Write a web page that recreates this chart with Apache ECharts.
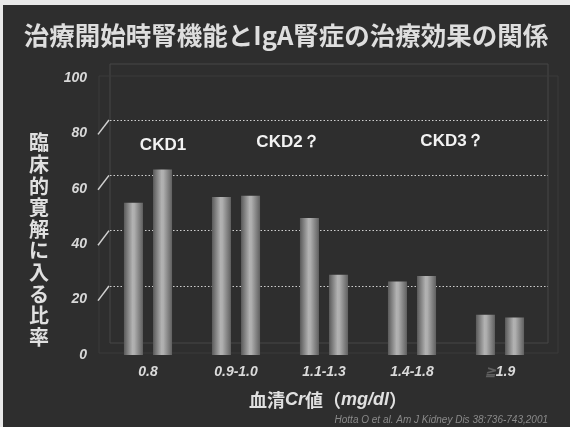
<!DOCTYPE html>
<html>
<head>
<meta charset="utf-8">
<script src="https://cdn.jsdelivr.net/npm/echarts@6/dist/echarts.min.js"></script>
<style>
  html, body { margin: 0; padding: 0; background: #2e2e2e; }
  #chart { width: 570px; height: 427px; }
</style>
</head>
<body>
<div id="chart"></div>
<script>
// Serum creatinine bands at the start of treatment
const categories = ['0.8', '0.9-1.0', '1.1-1.3', '1.4-1.8', '≧1.9'];
// Clinical remission rate (%) for the two bars in each band
const seriesA = [55, 57, 49.5, 26.5, 14.5];
const seriesB = [67, 57.5, 29, 28.5, 13.5];
// Value axis ticks
const yTicks = [0, 20, 40, 60, 80, 100];
// CKD stage annotations
const stageLabels = ['CKD1', 'CKD2？', 'CKD3？'];

const FONT = '"Noto Sans CJK JP", "Noto Sans", sans-serif';
const LATIN = '"Liberation Sans", Arial, sans-serif';

const chart = echarts.init(document.getElementById('chart'), null, { renderer: 'canvas' });

const barColor = new echarts.graphic.LinearGradient(0, 0, 1, 0, [
  { offset: 0, color: '#5a5a5a' },
  { offset: 0.45, color: '#b2b2b2' },
  { offset: 0.55, color: '#aeaeae' },
  { offset: 1, color: '#606060' }
]);

const option = {
  backgroundColor: '#2e2e2e',
  animation: false,
  grid: [
    // front plane: bars and tick labels
    { left: 104, right: 26, top: 78, bottom: 72 },
    // back wall: dotted guide lines
    { left: 110, right: 22, top: 120, bottom: 141 },
    // back wall frame
    { left: 110, right: 22, top: 64, bottom: 84, show: true, borderColor: '#474747', borderWidth: 1 },
    // front frame
    { left: 99, right: 12, top: 76, bottom: 74, show: true, borderColor: '#3a3a3a', borderWidth: 1 }
  ],
  xAxis: [
    {
      type: 'category', gridIndex: 0, data: categories,
      axisLine: { show: false }, axisTick: { show: false },
      axisLabel: {
        interval: 0, hideOverlap: false,
        margin: 10, color: '#dadada', fontFamily: LATIN, fontSize: 14, fontStyle: 'italic', fontWeight: 'bold',
        formatter: v => v.startsWith('≧') ? '{dim|≧}' + v.slice(1) : v,
        rich: { dim: { color: '#5e5e5e', fontSize: 13, fontFamily: LATIN } }
      }
    },
    { type: 'category', gridIndex: 1, data: categories, show: false },
    { type: 'value', gridIndex: 2, show: false },
    { type: 'value', gridIndex: 3, show: false }
  ],
  yAxis: [
    {
      type: 'value', gridIndex: 0, min: 0, max: 100, interval: 20,
      axisLine: { show: false }, axisTick: { show: false }, splitLine: { show: false },
      axisLabel: { margin: 17, color: '#d8d8d8', fontFamily: LATIN, fontSize: 14, fontStyle: 'italic', fontWeight: 'bold' }
    },
    {
      type: 'value', gridIndex: 1, min: 20, max: 80, interval: 20,
      axisLine: { show: false }, axisTick: { show: false }, axisLabel: { show: false },
      splitLine: { show: true, lineStyle: { color: '#cfcfcf', width: 1.2, type: [1.5, 2] } }
    },
    { type: 'value', gridIndex: 2, show: false },
    { type: 'value', gridIndex: 3, show: false }
  ],
  series: [
    {
      type: 'bar', xAxisIndex: 0, yAxisIndex: 0, data: seriesA,
      barWidth: 19, barGap: '53%', itemStyle: { color: barColor }
    },
    {
      type: 'bar', xAxisIndex: 0, yAxisIndex: 0, data: seriesB,
      barWidth: 19, barGap: '53%', itemStyle: { color: barColor }
    }
  ],
  graphic: []
};

chart.setOption(option);

// Diagonal connectors from the front tick positions to the back wall lines
const slashes = [];
yTicks.filter(t => t > 0 && t < 100).forEach(t => {
  const yf = chart.convertToPixel({ yAxisIndex: 0 }, t);
  const yb = chart.convertToPixel({ yAxisIndex: 1 }, t);
  slashes.push({
    type: 'line', silent: true,
    shape: { x1: 98, y1: yf + 1, x2: 109, y2: yb },
    style: { stroke: '#d0d0d0', lineWidth: 1.5 }
  });
});

const graphics = [
  // light strips along the top and left edges
  { type: 'rect', shape: { x: 0, y: 0, width: 570, height: 5 }, style: { fill: '#e9e9e9' }, silent: true },
  { type: 'rect', shape: { x: 0, y: 0, width: 3, height: 427 }, style: { fill: '#e9e9e9' }, silent: true },
  {
    type: 'text', x: 286, y: 35,
    style: {
      text: '治療開始時腎機能とIgA腎症の治療効果の関係',
      fill: '#dedede', font: 'bold 25.5px ' + FONT, align: 'center', verticalAlign: 'middle'
    }
  },
  {
    type: 'text', x: 39, y: 240,
    style: {
      text: '臨床的寛解に入る比率'.split('').join('\n'),
      fill: '#e0e0e0', font: 'bold 20px ' + FONT, lineHeight: 21.6,
      align: 'center', verticalAlign: 'middle'
    }
  },
  {
    type: 'text', x: 163, y: 145,
    style: { text: stageLabels[0], fill: '#f2f2f2', font: 'bold 17px ' + LATIN, align: 'center', verticalAlign: 'middle' }
  },
  {
    type: 'text', x: 288, y: 142,
    style: { text: stageLabels[1], fill: '#f2f2f2', font: 'bold 17px ' + LATIN, align: 'center', verticalAlign: 'middle' }
  },
  {
    type: 'text', x: 452, y: 141,
    style: { text: stageLabels[2], fill: '#f2f2f2', font: 'bold 17px ' + LATIN, align: 'center', verticalAlign: 'middle' }
  },
  {
    type: 'text', x: 328, y: 400,
    style: {
      text: '{j|血清}{i|Cr}{j|値（}{i|mg/dl}{j|）}',
      align: 'center', verticalAlign: 'middle',
      rich: {
        j: { fill: '#e0e0e0', font: 'bold 18px ' + FONT },
        i: { fill: '#e0e0e0', font: 'italic bold 18px ' + LATIN }
      }
    }
  },
  {
    type: 'text', x: 548, y: 420,
    style: {
      text: 'Hotta O et al. Am J Kidney Dis 38:736-743,2001',
      fill: '#8a8a8a', font: 'italic 10px ' + LATIN, align: 'right', verticalAlign: 'middle'
    }
  }
].concat(slashes);

chart.setOption({ graphic: graphics });
</script>
</body>
</html>
